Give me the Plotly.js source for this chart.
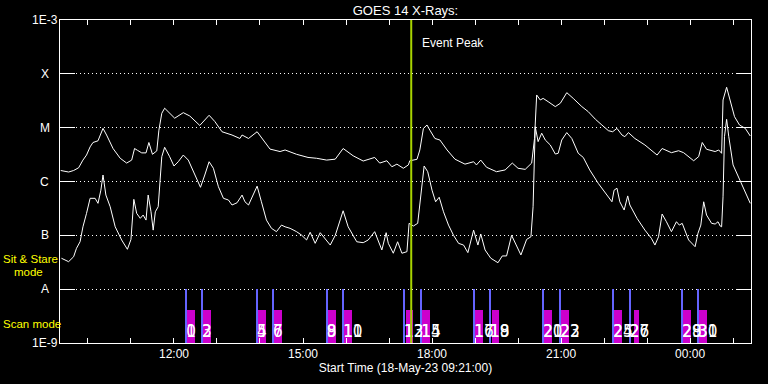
<!DOCTYPE html>
<html>
<head>
<meta charset="utf-8">
<script src="https://cdn.plot.ly/plotly-3.0.1.min.js"></script>
<style>html,body{margin:0;padding:0;background:#000;}#chart{width:768px;height:384px;}</style>
</head>
<body>
<div id="chart"></div>
<script>
// ---- data (times HH:MM, after midnight = next day) ----
const upperTimes = ["09:22","09:33","09:40","09:47","09:53","09:58","10:03","10:07","10:14","10:21","10:26","10:35","10:45","10:54","11:01","11:05","11:09","11:15","11:21","11:25","11:30","11:36","11:39","11:43","11:47","11:54","12:01","12:13","12:22","12:36","12:49","12:57","13:07","13:21","13:32","13:35","13:44","13:56","14:05","14:14","14:28","14:35","14:51","15:07","15:19","15:33","15:45","15:56","16:10","16:24","16:40","16:47","16:57","17:04","17:11","17:20","17:27","17:29","17:39","17:43","17:48","17:53","17:57","18:04","18:11","18:21","18:32","18:46","18:58","19:02","19:08","19:16","19:30","19:42","19:52","20:00","20:10","20:19","20:23","20:25","20:26","20:31","20:35","20:42","20:52","20:59","21:08","21:17","21:29","21:38","21:48","21:57","22:06","22:12","22:18","22:25","22:29","22:34","22:43","22:57","23:14","23:21","23:34","23:44","23:51","00:05","00:12","00:17","00:23","00:35","00:40","00:44","00:46","00:51","00:55","01:02","01:09","01:17","01:24"];
const upperFlux = [1.6e-6,1.5e-6,1.6e-6,1.8e-6,2.5e-6,3.1e-6,4.4e-6,5.3e-6,5.7e-6,9.7e-6,7.3e-6,4.1e-6,2.7e-6,2.2e-6,2.5e-6,4.1e-6,3.8e-6,3.4e-6,3.4e-6,5.3e-6,3.2e-6,3.7e-6,9.0e-6,1.85e-5,2.3e-5,1.85e-5,1.5e-5,1.9e-5,1.65e-5,1.1e-5,1.7e-5,1.3e-5,8.4e-6,7.3e-6,6.3e-6,7.3e-6,6.3e-6,8.4e-6,5.9e-6,4.0e-6,3.6e-6,3.85e-6,3.2e-6,2.8e-6,2.7e-6,2.5e-6,2.6e-6,4.1e-6,3.0e-6,2.4e-6,2.8e-6,2.2e-6,2.43e-6,1.88e-6,2.1e-6,1.76e-6,2.03e-6,2.43e-6,2.58e-6,3.85e-6,9.7e-6,1.12e-5,9.0e-6,6.3e-6,5.9e-6,3.85e-6,2.6e-6,2.1e-6,2.33e-6,2.03e-6,2.5e-6,1.84e-6,1.52e-6,1.64e-6,2.2e-6,1.76e-6,1.68e-6,2.2e-6,6.3e-6,2.13e-5,4.05e-5,3.27e-5,3.5e-5,3.04e-5,2.46e-5,2.84e-5,4.47e-5,3.5e-5,2.46e-5,1.98e-5,1.43e-5,1.12e-5,8.8e-6,8.4e-6,9.7e-6,7.3e-6,6.8e-6,8.1e-6,6.3e-6,4.77e-6,3.1e-6,4.1e-6,3.43e-6,3.73e-6,3.43e-6,2.43e-6,2.9e-6,5.3e-6,3.97e-6,3.6e-6,3.85e-6,3.34e-6,3.27e-5,5.63e-5,3.5e-5,1.6e-5,1.12e-5,9.7e-6,7.0e-6];

const lowerTimes = ["09:23","09:33","09:40","09:44","09:49","09:53","09:58","10:03","10:10","10:14","10:18","10:21","10:25","10:31","10:38","10:47","10:55","11:00","11:04","11:08","11:13","11:17","11:21","11:24","11:28","11:31","11:34","11:38","11:43","11:47","11:54","12:00","12:06","12:13","12:20","12:29","12:37","12:43","12:49","12:55","13:02","13:09","13:16","13:21","13:28","13:35","13:39","13:44","13:49","13:56","14:02","14:09","14:16","14:23","14:30","14:35","14:42","14:51","14:58","15:05","15:10","15:17","15:24","15:31","15:38","15:45","15:52","15:56","16:03","16:10","16:15","16:24","16:31","16:40","16:45","16:50","16:56","16:59","17:06","17:12","17:18","17:25","17:28","17:34","17:40","17:45","17:49","17:54","18:00","18:05","18:10","18:16","18:23","18:30","18:37","18:44","18:50","18:58","19:04","19:08","19:14","19:22","19:32","19:38","19:44","19:51","19:58","20:04","20:12","20:18","20:21","20:24","20:28","20:33","20:38","20:45","20:52","20:56","21:01","21:08","21:15","21:24","21:31","21:40","21:52","22:04","22:11","22:14","22:18","22:22","22:28","22:33","22:36","22:46","22:57","23:06","23:11","23:16","23:21","23:27","23:34","23:41","23:45","23:49","23:58","00:07","00:11","00:15","00:19","00:23","00:30","00:35","00:39","00:42","00:44","00:46","00:48","00:51","00:54","01:00","01:07","01:17","01:24"];
const lowerFlux = [3.75e-8,3.24e-8,4.0e-8,5.75e-8,7.6e-8,1.44e-7,2.56e-7,4.87e-7,4.87e-7,3.93e-7,6.9e-7,1.32e-6,5.6e-7,3.4e-7,1.44e-7,8.2e-8,5.5e-8,8.4e-8,4.66e-7,2.56e-7,2.07e-7,2.38e-7,1.92e-7,5.6e-7,2.74e-7,1.25e-7,2.74e-7,3.4e-7,2.89e-6,4.32e-6,2.89e-6,1.94e-6,2.33e-6,3.1e-6,2.5e-6,1.32e-6,7.8e-7,1.32e-6,2.33e-6,1.76e-6,8.0e-7,4.87e-7,4.53e-7,3.66e-7,4.03e-7,5.6e-7,4.2e-7,3.66e-7,5.2e-7,8.2e-7,4.2e-7,1.92e-7,1.35e-7,1.17e-7,1.55e-7,1.44e-7,1.35e-7,1.17e-7,1.01e-7,8.2e-8,1.14e-7,7.1e-8,1.12e-7,8.8e-8,6.6e-8,1.0e-7,1.92e-7,2.86e-7,1.44e-7,1.0e-7,7.6e-8,7.3e-8,8.2e-8,1.17e-7,8.2e-8,5.35e-8,1.12e-7,7.1e-8,4.65e-8,7.6e-8,4.65e-8,4.97e-8,1.67e-7,1.49e-7,1.67e-7,6.9e-7,1.94e-6,1.52e-6,6.9e-7,4.2e-7,5.1e-7,2.74e-7,1.55e-7,1.0e-7,7.1e-8,6.6e-8,4.77e-8,1.25e-7,6.6e-8,1.06e-7,5.35e-8,3.75e-8,3.1e-8,4.14e-8,4.14e-8,1.0e-7,6.6e-8,4.32e-8,8.4e-8,9.4e-8,3.4e-7,1.04e-5,5.5e-6,7.9e-6,5.9e-6,4.77e-6,3.24e-6,3.34e-6,5.9e-6,8.1e-6,6.3e-6,3.34e-6,2.8e-6,1.64e-6,9.2e-7,5.6e-7,4.2e-7,6.9e-7,7.5e-7,4.2e-7,2.95e-7,5.4e-7,3.66e-7,2.07e-7,1.25e-7,8.8e-8,6.6e-8,9.4e-8,2.49e-7,1.79e-7,1.17e-7,1.79e-7,1.55e-7,1.67e-7,8.2e-8,6.15e-8,1.09e-7,1.55e-7,4.2e-7,2.38e-7,1.67e-7,1.62e-7,1.79e-7,1.49e-7,1.44e-7,5.2e-7,6.8e-6,1.43e-5,6.8e-6,2.03e-6,1.23e-6,6.45e-7,3.93e-7];

// scan mode (blue) times, sit & stare (magenta) start times and durations in minutes
const scanTimes = ["12:17","12:39","13:56","14:18","15:33","15:56","17:21","17:45","18:59","19:21","20:35","20:59","22:13","22:36","23:49","00:11"];
const stareStart = ["12:18","12:40","13:57","14:20","15:35","15:57","17:23","17:46","19:00","19:23","20:36","21:00","22:14","22:42","23:50","00:12"];
const stareMinutes = [11,11,11,11,11,11,11,11,11,11,11,11,11,7,11,11];
const labelsEven = ["0","2","4","6","8","10","12","14","16","18","20","22","24","26","28","30"];
const labelsOdd  = ["1","3","5","7","9","11","13","15","17","19","21","23","25","27","29","31"];
const eventPeak = "17:31";
const startTime = "09:21";
const endTime = "01:25";

const yTickVals = [1e-9,1e-8,1e-7,1e-6,1e-5,1e-4,1e-3];
const yTickText = ["1E-9","A","B","C","M","X","1E-3"];

// ---- helpers ----
function toMs(hhmm){
  const [h,m] = hhmm.split(":").map(Number);
  return Date.UTC(2023,4,h<9?19:18,h,m);
}
const MIN = 60000;

const traces = [
  {x: upperTimes.map(toMs), y: upperFlux, type:'scatter', mode:'lines',
   line:{color:'#ffffff', width:1}, hoverinfo:'skip'},
  {x: lowerTimes.map(toMs), y: lowerFlux, type:'scatter', mode:'lines',
   line:{color:'#ffffff', width:1}, hoverinfo:'skip'},
  {x: scanTimes.map(toMs), y: scanTimes.map(()=>1), type:'bar', yaxis:'y2',
   width: scanTimes.map(()=>2.8*MIN), marker:{color:'#6464ff', line:{width:0}}},
  {x: stareStart.map((t,i)=>toMs(t)+stareMinutes[i]*MIN/2), y: stareStart.map(()=>0.61),
   type:'bar', yaxis:'y2', width: stareMinutes.map(m=>m*MIN),
   marker:{color:'#cc00cc', line:{width:0}}},
  {x: scanTimes.map(toMs), y: scanTimes.map(()=>0.19), type:'scatter', mode:'text', yaxis:'y2',
   text: labelsEven, textposition:'middle right',
   textfont:{family:'Liberation Sans Narrow, DejaVu Sans Condensed, sans-serif', size:17, color:'#ffffff'}},
  {x: scanTimes.map(toMs), y: scanTimes.map(()=>0.19), type:'scatter', mode:'text', yaxis:'y2',
   text: labelsOdd, textposition:'middle right',
   textfont:{family:'Liberation Sans Narrow, DejaVu Sans Condensed, sans-serif', size:17, color:'#ffffff'}},
  {x: [toMs(eventPeak), toMs(eventPeak)], y:[0,6], type:'scatter', mode:'lines', yaxis:'y2',
   line:{color:'#a8d400', width:2}}
];

const plotW = 691, plotH = 323;
const annotations = yTickVals.map((v,i)=>({
  xref:'paper', yref:'y', x: -15.5/plotW, y: Math.log10(v), text: yTickText[i],
  showarrow:false, xanchor:'center', yanchor:'middle', font:{size:12, color:'#ffffff'}
}));
annotations.push(
  {xref:'x', yref:'paper', x: toMs(eventPeak), y: (343-43)/plotH, xshift: 9, xanchor:'left', yanchor:'middle',
   text:'Event Peak', showarrow:false, font:{size:12, color:'#ffffff'}},
  {xref:'paper', yref:'paper', x:(1-60)/plotW, y:(343-259)/plotH, text:'Sit & Stare', showarrow:false,
   xanchor:'left', yanchor:'middle', font:{size:11.5, color:'#ffff00'}},
  {xref:'paper', yref:'paper', x:(12-60)/plotW, y:(343-272)/plotH, text:'mode', showarrow:false,
   xanchor:'left', yanchor:'middle', font:{size:11.5, color:'#ffff00'}},
  {xref:'paper', yref:'paper', x:(1-60)/plotW, y:(343-324)/plotH, text:'Scan mode', showarrow:false,
   xanchor:'left', yanchor:'middle', font:{size:11.5, color:'#ffff00'}}
);

const layout = {
  width:768, height:384,
  margin:{l:60, r:17, t:20, b:41, pad:0},
  paper_bgcolor:'#000000', plot_bgcolor:'#000000',
  showlegend:false, barmode:'overlay', bargap:0,
  font:{family:'Liberation Sans, DejaVu Sans, sans-serif', color:'#ffffff', size:12},
  title:{text:'GOES 14 X-Rays:', font:{size:13, color:'#ffffff'}, x:0.528, xref:'container',
         y:1-10/384, yref:'container', yanchor:'middle', xanchor:'center'},
  xaxis:{type:'date', range:[toMs(startTime), toMs(endTime)],
    showline:true, linecolor:'#ffffff', linewidth:1, mirror:'ticks',
    ticks:'inside', ticklen:5, tickcolor:'#ffffff', tickwidth:1,
    dtick:3*3600000, tick0:'2023-05-18 00:00', tickformat:'%H:%M',
    minor:{dtick:3600000, ticks:'inside', ticklen:5, tickcolor:'#ffffff', showgrid:false},
    showgrid:false, zeroline:false, tickfont:{size:12, color:'#ffffff'},
    title:{text:'Start Time (18-May-23 09:21:00)', standoff:3, font:{size:12, color:'#ffffff'}}},
  yaxis:{type:'log', range:[-9,-3], tickvals:yTickVals, showticklabels:false,
    showline:true, linecolor:'#ffffff', linewidth:1, mirror:'ticks',
    ticks:'inside', ticklen:15, tickcolor:'#ffffff', tickwidth:1,
    showgrid:true, gridcolor:'#ffffff', gridwidth:1, griddash:'1px,3px', zeroline:false},
  yaxis2:{overlaying:'y', range:[0,6], visible:false, fixedrange:true},
  annotations: annotations
};

Plotly.newPlot('chart', traces, layout, {staticPlot:true, displayModeBar:false});
</script>
</body>
</html>
